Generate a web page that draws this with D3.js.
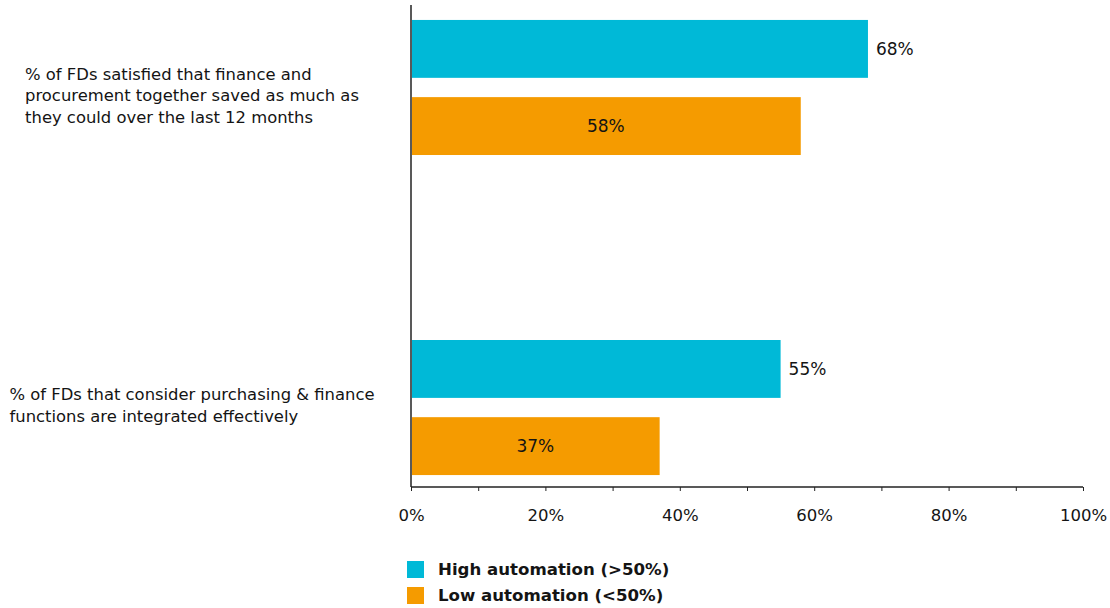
<!DOCTYPE html>
<html>
<head>
<meta charset="utf-8">
<script src="https://cdn.jsdelivr.net/npm/d3@7"></script>
<style>
  body { margin: 0; background: #fff; }
  text { font-family: "DejaVu Sans", sans-serif; fill: #141414; }
</style>
</head>
<body>
<div id="chart"></div>
<script>
// Donnees du graphique
const categories = [
  ["% of FDs satisfied that finance and", "procurement together saved as much as", "they could over the last 12 months"],
  ["% of FDs that consider purchasing & finance", "functions are integrated effectively"]
];
const series = ["High automation (>50%)", "Low automation (<50%)"];
const highValues = [68, 55];
const lowValues = [58, 37];
const tickValues = [0, 20, 40, 60, 80, 100];
const colors = ["#00b9d7", "#f59b00"];

const W = 1110, H = 608;
const margin = {top: 5, right: 27, bottom: 121, left: 411};
const width = W - margin.left - margin.right,
    height = H - margin.top - margin.bottom;

const svg = d3.select("#chart").append("svg")
    .attr("width", W)
    .attr("height", H);
const g = svg.append("g")
    .attr("transform", `translate(${margin.left},${margin.top})`);

// echelles
const x = d3.scaleLinear().domain([0, 100]).range([0, width]);
const y0 = d3.scaleBand()
    .domain(d3.range(categories.length))
    .range([0, height])
    .paddingInner(0.578)
    .paddingOuter(0.042)
    .align(0.556);
const y1 = d3.scaleBand()
    .domain(d3.range(series.length))
    .range([0, y0.bandwidth()])
    .paddingInner(0.25);

const rows = categories.map((c, i) => ({i, vals: [highValues[i], lowValues[i]]}));

// barres
const grp = g.selectAll(".grp").data(rows).join("g")
    .attr("transform", d => `translate(0,${y0(d.i)})`);

grp.selectAll("rect")
    .data(d => d.vals.map((v, s) => ({v, s})))
    .join("rect")
    .attr("x", 1)
    .attr("y", d => y1(d.s))
    .attr("width", d => x(d.v) - 1)
    .attr("height", y1.bandwidth())
    .attr("fill", d => colors[d.s]);

// etiquettes de valeurs
grp.selectAll(".val")
    .data(d => d.vals.map((v, s) => ({v, s})))
    .join("text")
    .attr("class", "val")
    .attr("x", d => d.s === 0 ? x(d.v) + 8 : x(d.v) / 2)
    .attr("y", d => y1(d.s) + y1.bandwidth() / 2)
    .attr("dy", "0.36em")
    .attr("text-anchor", d => d.s === 0 ? "start" : "middle")
    .style("font-size", "17px")
    .text(d => d.v + "%");

// axe X
const xAxis = g.append("g")
    .attr("transform", `translate(0,${height})`)
    .call(d3.axisBottom(x).tickValues(d3.range(0, 101, 10)).tickSize(4)
        .tickFormat(d => tickValues.includes(d) ? d + "%" : ""));
xAxis.select(".domain").attr("stroke", "#222").attr("stroke-width", 1.3)
    .attr("d", `M0,0H${width}`);
xAxis.selectAll(".tick line").attr("stroke", "#222");
xAxis.selectAll(".tick text")
    .attr("y", 22)
    .style("font-size", "16.5px")
    .style("font-family", "DejaVu Sans, sans-serif")
    .attr("fill", "#141414");

// axe Y (ligne seule)
g.append("line")
    .attr("x1", 0).attr("x2", 0)
    .attr("y1", 0).attr("y2", height)
    .attr("stroke", "#222")
    .attr("stroke-width", 1.5);

// etiquettes des categories
const labelCenter = 192;
categories.forEach((lines, i) => {
  const t = svg.append("text")
      .style("font-size", "16.4px");
  lines.forEach((l, k) => {
    t.append("tspan").attr("y", margin.top + y0(i) + 60 + k * 21.5).text(l);
  });
  let maxW = 0;
  t.selectAll("tspan").each(function() { maxW = Math.max(maxW, this.getComputedTextLength()); });
  t.selectAll("tspan").attr("x", labelCenter - maxW / 2);
});

// legende
const leg = svg.append("g").attr("transform", "translate(407,561)");
series.forEach((s, i) => {
  leg.append("rect")
      .attr("x", 0).attr("y", i * 26)
      .attr("width", 17).attr("height", 17)
      .attr("fill", colors[i]);
  leg.append("text")
      .attr("x", 31).attr("y", i * 26 + 8.5)
      .attr("dy", "0.36em")
      .style("font-size", "16.6px")
      .style("font-weight", "bold")
      .text(s);
});
</script>
</body>
</html>
